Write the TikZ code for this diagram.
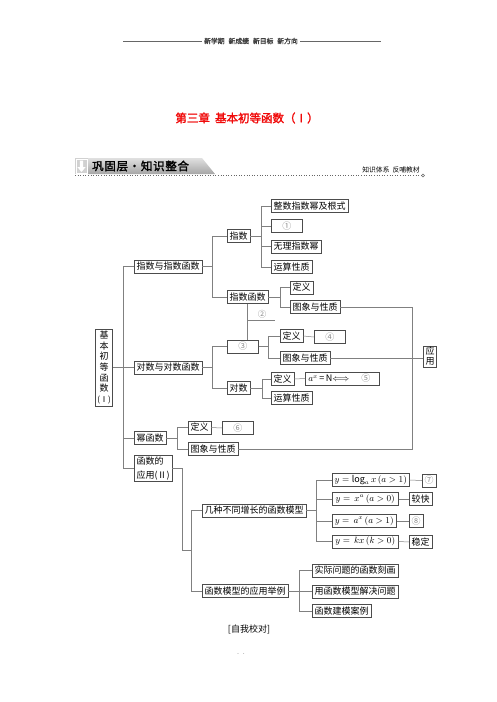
\documentclass[tikz,border=0pt]{standalone}
\usepackage{fontspec}
\setmainfont{Noto Sans CJK SC}
\newfontfamily\cjkb[FakeBold=2]{Noto Sans CJK SC}
\newfontfamily\cjkbs[FakeBold=2,LetterSpace=6]{Noto Sans CJK SC}
\usetikzlibrary{shadows}
\definecolor{titlered}{RGB}{240,10,10}
\begin{document}
\begin{tikzpicture}[x=1pt,y=-1pt,
  bx/.style={draw=black!70, line width=0.5pt, fill=white, inner xsep=2.3pt, inner ysep=1pt,
    minimum height=13pt, anchor=west, font=\fontsize{9}{10}\selectfont,
    drop shadow={shadow xshift=0.7pt, shadow yshift=-0.7pt, fill=black!65, opacity=1}},
  ln/.style={draw=black!50, line width=0.5pt},
  num/.style={text=black!45},
]
\useasboundingbox (0,0) rectangle (496,702);

% top header
\node[font=\cjkb\fontsize{6.8}{7}\selectfont, text=black!75, inner xsep=2pt] (top) at (251,41) {新学期\hspace{4pt}新成绩\hspace{4pt}新目标\hspace{4pt}新方向};
\coordinate (tl) at (123,41);
\coordinate (tr) at (381,41);
\draw[black!60, line width=0.4pt] (tl) -- (top.west);
\draw[black!60, line width=0.4pt] (top.east) -- (tr);

% title
\node[font=\cjkb\fontsize{11.5}{13}\selectfont, text=titlered] (title) at (247,118) {第三章\ \ 基本初等函数（Ⅰ）};

% section bar
\fill[black!18] (75,158) rectangle (88,174);
\draw[white, line width=0.6pt] (76,159) rectangle (87,173);
\fill[white] (79.8,160.5) rectangle (83.2,167) (77.3,167) -- (85.7,167) -- (81.5,172) -- cycle;
\shade[top color=black!12, bottom color=black!35] (88,158) -- (202,158) -- (215,174) -- (88,174) -- cycle;
\node[font=\cjkbs\fontsize{11.5}{12}\selectfont, anchor=west, inner sep=0pt] (bar) at (92,166) {巩固层·知识整合};
\node[font=\fontsize{6.8}{8}\selectfont, anchor=east, inner sep=0pt] (bar2) at (420,170) {知识体系\ \ 反哺教材};
\coordinate (dl) at (75,175.5);
\coordinate (dr) at (421.5,175.5);
\draw[black!60, dotted, line width=0.6pt] (dl) -- (dr);
\draw[black!60, line width=0.4pt] (423,175.5) circle (1.5);

% root
\node[draw=black!70, line width=0.5pt, inner xsep=2pt, inner ysep=2pt, align=center,
  font=\fontsize{9}{10.6}\selectfont,
  drop shadow={shadow xshift=0.7pt, shadow yshift=-0.7pt, fill=black!65, opacity=1}, fill=white]
  (root) at (104,367.5) {基\\本\\初\\等\\函\\数\\{\fontsize{8}{9}\selectfont(Ⅰ)}};

% level 1
\node[bx] (n1) at (134,266.5) {指数与指数函数};
\node[bx] (n2) at (134,367.5) {对数与对数函数};
\node[bx] (n3) at (134,438) {幂函数};
\node[bx, align=left, font=\fontsize{9}{14}\selectfont, inner ysep=1.5pt] (n4) at (134,468.5) {函数的\\应用(Ⅱ)};

\foreach \c in {n1,n2,n3,n4} \draw[ln] (root.east) -- +(10,0) |- (\c.west);

% exponent branch
\node[bx] (a1) at (227,236) {指数};
\node[bx] (a2) at (227,297) {指数函数};
\foreach \c in {a1,a2} \draw[ln] (n1.east) -- +(10,0) |- (\c.west);
\node[bx] (a11) at (271,206) {整数指数幂及根式};
\node[bx, minimum width=31pt, num] (a12) at (271,226) {①};
\node[bx] (a13) at (271,246.5) {无理指数幂};
\node[bx] (a14) at (271,267) {运算性质};
\foreach \c in {a11,a12,a13,a14} \draw[ln] (a1.east) -- +(11,0) |- (\c.west);
\node[bx] (a21) at (290,287.5) {定义};
\node[bx] (a22) at (290,307) {图象与性质};
\foreach \c in {a21,a22} \draw[ln] (a2.east) -- +(12,0) |- (\c.west);

% blank 2
\coordinate (c2) at (247,320);
\coordinate (c2e) at (275,320);
\node[num, font=\fontsize{8.5}{9}\selectfont, inner sep=0pt] (n2lab) at (262,314) {②};
\draw[ln] (c2) -- (c2e);

% log branch
\node[bx, minimum width=31pt, num] (b1) at (227,346.5) {③};
\node[bx] (b2) at (227,388) {对数};
\foreach \c in {b1,b2} \draw[ln] (n2.east) -- +(10,0) |- (\c.west);
\draw[ln] (a2.south -| c2) -- (b1.north -| c2);
\node[bx] (b11) at (280,336) {定义};
\node[bx, minimum width=31pt, num] (b12) at (314,337) {④};
\node[bx] (b13) at (280,358) {图象与性质};
\foreach \c in {b11,b13} \draw[ln] (b1.east) -- +(10,0) |- (\c.west);
\draw[ln] (b11.east) -- (b12.west);
\node[bx] (b21) at (271,379) {定义};
\node[bx, minimum width=74pt] (b22) at (305,378.5)
  {\makebox[68pt][l]{$a^x$\,=\,N$\Longleftrightarrow$\hfill\textcolor{black!45}{⑤}\hspace{6pt}}};
\node[bx] (b23) at (271,398) {运算性质};
\foreach \c in {b21,b23} \draw[ln] (b2.east) -- +(12,0) |- (\c.west);
\draw[ln] (b21.east) -- (b22.west);

% application box
\node[draw=black!70, line width=0.5pt, fill=white, inner xsep=2pt, inner ysep=1.5pt, align=center,
  font=\fontsize{9}{10}\selectfont,
  drop shadow={shadow xshift=0.7pt, shadow yshift=-0.7pt, fill=black!65, opacity=1}]
  (yy) at (430,356.5) {应\\用};
\draw[ln] (b13.east) -- (b13.east -| yy.west);

% power branch
\node[bx] (m1) at (188,427.5) {定义};
\node[bx, minimum width=31pt, num] (m2) at (222,428) {⑥};
\node[bx] (m3) at (188,449) {图象与性质};
\foreach \c in {m1,m3} \draw[ln] (n3.east) -- +(11,0) |- (\c.west);
\draw[ln] (m1.east) -- (m2.west);

\coordinate (vb) at (412,0);
\draw[ln] (a22.east) -| (vb |- m3.east) -- (m3.east);

% application branch
\node[bx] (h1) at (202,510.5) {几种不同增长的函数模型};
\node[bx] (h2) at (202,591) {函数模型的应用举例};
\coordinate (j0) at (182,550);
\coordinate (j) at (191,550);
\draw[ln] (n4.east) -| (j0) -- (j);
\foreach \c in {h1,h2} \draw[ln] (j) |- (\c.west);

\node[bx, minimum width=77pt] (h11) at (332,480) {$y=\log_a x\,(a>1)$};
\node[bx, minimum width=11pt, num] (h12) at (422,480.5) {⑦};
\node[bx, minimum width=66pt] (h13) at (332,499) {$y=\,x^a\,(a>0)$};
\node[bx] (h14) at (409,499) {较快};
\node[bx, minimum width=64pt] (h15) at (332,521) {$y=\,a^x\,(a>1)$};
\node[bx, minimum width=11pt, num] (h16) at (409,521) {⑧};
\node[bx, minimum width=66pt] (h17) at (332,541.5) {$y=\,kx\,(k>0)$};
\node[bx] (h18) at (409,542) {稳定};
\foreach \c in {h11,h13,h15,h17} \draw[ln] (h1.east) -- +(10,0) |- (\c.west);
\draw[ln] (h11.east) -- (h12.west);
\draw[ln] (h13.east) -- (h14.west);
\draw[ln] (h15.east) -- (h16.west);
\draw[ln] (h17.east) -- (h18.west);

\node[bx] (h21) at (312,570.5) {实际问题的函数刻画};
\node[bx] (h22) at (312,591.5) {用函数模型解决问题};
\node[bx] (h23) at (312,611) {函数建模案例};
\foreach \c in {h21,h22,h23} \draw[ln] (h2.east) -- +(11,0) |- (\c.west);

% footer
\node[font=\fontsize{9}{10}\selectfont] (self) at (249,629.5) {[自我校对]};
\node[font=\fontsize{4}{5}\selectfont, text=black!70] (pg) at (241,655) {•\ \ •};
\end{tikzpicture}
\end{document}
